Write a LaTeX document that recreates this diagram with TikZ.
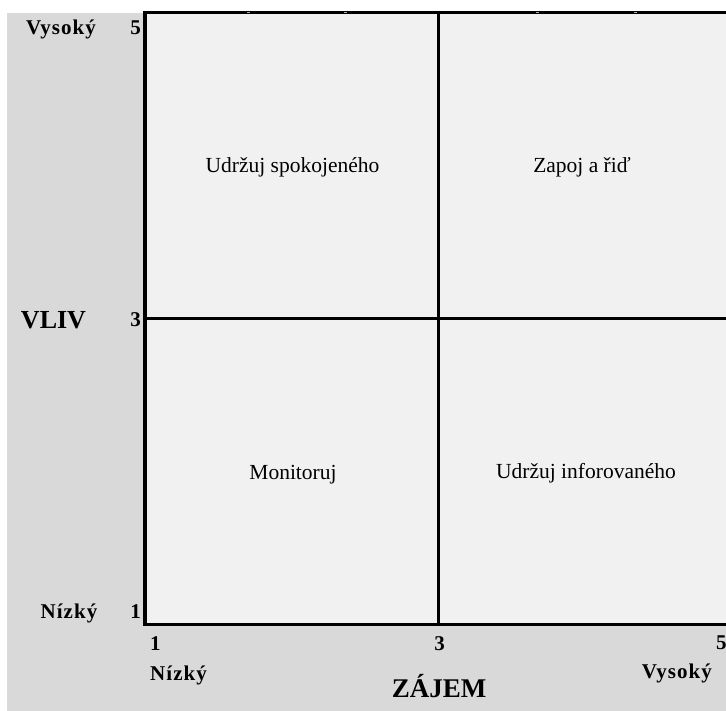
\documentclass[tikz,border=0pt]{standalone}
\usepackage{fontspec}
\setmainfont{Liberation Serif}
\newfontfamily\spacedbf[LetterSpace=5]{Liberation Serif Bold}
\definecolor{panelgray}{HTML}{D9D9D9}
\definecolor{plotfill}{HTML}{F1F1F1}
\definecolor{tickgray}{HTML}{B0B0B0}
\begin{document}
\begin{tikzpicture}[x=1pt,y=-1pt,
  quad/.style={anchor=base,inner sep=0pt,font=\fontsize{21.5}{25}\selectfont},
  axnum/.style={anchor=base,inner sep=0pt,font=\fontsize{21}{25}\selectfont\bfseries},
  axend/.style={anchor=base,inner sep=0pt,font=\fontsize{21}{25}\selectfont\spacedbf},
  axtitle/.style={anchor=base,inner sep=0pt,font=\fontsize{27}{31}\selectfont\bfseries},
  frameline/.style={line width=3.4pt},
  midline/.style={line width=2.6pt}]
\useasboundingbox (0,0) rectangle (726,711);
\clip (0,0) rectangle (726,711);

% panel background
\fill[panelgray] (7,13) rectangle (726,711);

% plot area corners and midpoints
\coordinate (tl) at (145,12.5);
\coordinate (bl) at (145,624.5);
\coordinate (tr) at (745,12.5);
\coordinate (br) at (745,624.5);
\coordinate (mt) at (438.5,12.5);
\coordinate (mb) at (438.5,624.5);
\coordinate (ml) at (145,318.5);
\coordinate (mr) at (745,318.5);

\fill[plotfill] (tl) rectangle (br);
\draw[midline] (mt) -- (mb);
\draw[midline] (ml) -- (mr);
\draw[frameline] (tr) -- (tl) -- (bl) -- (br);

% faint tick marks on the upper edge
\foreach \tx in {248,345,537,635}
  \fill[tickgray] (\tx-1.5,12) rectangle (\tx+1.5,13.2);

% quadrant labels
\node[quad] (q1) at (292.5,173) {Udržuj spokojeného};
\node[quad] (q2) at (582,173) {Zapoj a řiď};
\node[quad] (q3) at (293,479) {Monitoruj};
\node[quad] (q4) at (586,478) {Udržuj inforovaného};

% vertical axis
\node[axend] (yhi) at (61,35) {Vysoký};
\node[axnum,anchor=base east] (y5) at (141,35) {5};
\node[axtitle,font=\fontsize{26}{30}\selectfont\bfseries] (ytitle) at (53.5,329) {VLIV};
\node[axnum,anchor=base east] (y3) at (141,327) {3};
\node[axend] (ylo) at (69,618) {Nízký};
\node[axnum,anchor=base east] (y1) at (141,618) {1};

% horizontal axis
\node[axnum,anchor=base west] (x1) at (150,650) {1};
\node[axnum] (x3) at (439.5,650) {3};
\node[axnum,anchor=base west] (x5) at (716,649.5) {5};
\node[axend,anchor=base west] (xlo) at (150,680) {Nízký};
\node[axend,anchor=base east] (xhi) at (712,678) {Vysoký};
\node[axtitle] (xtitle) at (439,697) {ZÁJEM};
\end{tikzpicture}
\end{document}
